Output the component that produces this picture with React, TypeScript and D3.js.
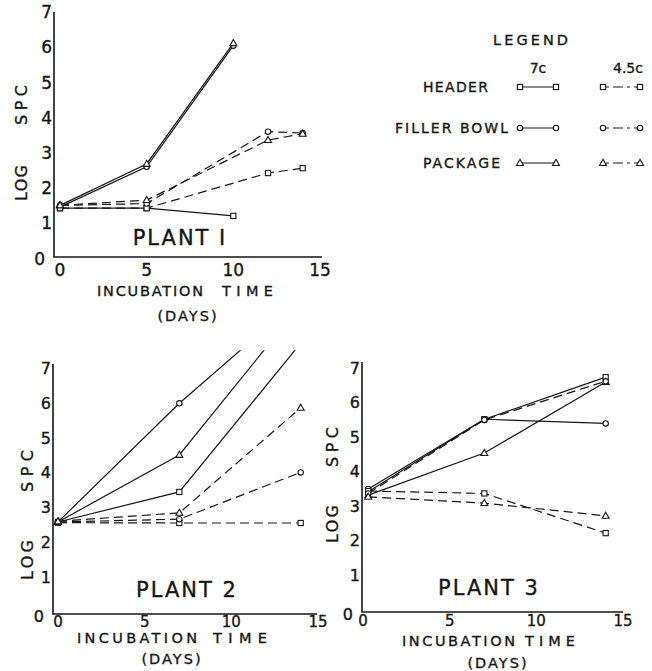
import React from 'react';
import * as d3 from 'd3';

type Pt = [number, number];

// x = incubation time (days), y = log SPC
const p1Header7: Pt[] = [[0, 1.42], [5, 1.42], [10, 1.2]];
const p1Filler7: Pt[] = [[0, 1.45], [5, 2.6], [10, 6.05]];
const p1Package7: Pt[] = [[0, 1.5], [5, 2.68], [10, 6.12]];
const p1Header45: Pt[] = [[0, 1.42], [5, 1.42], [12, 2.42], [14, 2.56]];
const p1Filler45: Pt[] = [[0, 1.5], [5, 1.55], [12, 3.6], [14, 3.56]];
const p1Package45: Pt[] = [[0, 1.5], [5, 1.65], [12, 3.36], [14, 3.54]];

const p2Header7: Pt[] = [[0, 2.58], [7, 3.44], [14, 7.7]];
const p2Filler7: Pt[] = [[0, 2.58], [7, 5.98], [14, 9.0]];
const p2Package7: Pt[] = [[0, 2.58], [7, 4.5], [14, 8.8]];
const p2Header45: Pt[] = [[0, 2.56], [7, 2.55], [14, 2.55]];
const p2Filler45: Pt[] = [[0, 2.58], [7, 2.66], [14, 4.0]];
const p2Package45: Pt[] = [[0, 2.6], [7, 2.84], [14, 5.85]];

const p3Header7: Pt[] = [[0.3, 3.4], [7, 5.5], [14, 6.72]];
const p3Filler7: Pt[] = [[0.3, 3.48], [7, 5.5], [14, 5.38]];
const p3Package7: Pt[] = [[0.3, 3.3], [7, 4.52], [14, 6.58]];
const p3Header45: Pt[] = [[0.3, 3.42], [7, 3.35], [14, 2.2]];
const p3Filler45: Pt[] = [[0.3, 3.35], [7, 5.48], [14, 6.6]];
const p3Package45: Pt[] = [[0.3, 3.25], [7, 3.07], [14, 2.7]];

const yTicks = [0, 1, 2, 3, 4, 5, 6, 7];
const xTicks = [0, 5, 10, 15];
const items = ['HEADER', 'FILLER BOWL', 'PACKAGE'];
const temps = ['7c', '4.5c'];

type Item = 'header' | 'filler' | 'package';
interface Series { pts: Pt[]; item: Item; dashed: boolean }

const mk = (a: Pt[][]): Series[] => [
  { pts: a[0], item: 'header', dashed: false },
  { pts: a[1], item: 'filler', dashed: false },
  { pts: a[2], item: 'package', dashed: false },
  { pts: a[3], item: 'header', dashed: true },
  { pts: a[4], item: 'filler', dashed: true },
  { pts: a[5], item: 'package', dashed: true },
];

// layout: ylab = [x, bottom of LOG, LOG len, top of SPC, SPC len]; xlab = [INCUBATION x, len, TIME x, len, baseline]
const panels = [
  {
    id: 'p1', title: 'PLANT I', series: mk([p1Header7, p1Filler7, p1Package7, p1Header45, p1Filler45, p1Package45]),
    xr: [60, 320], yr: [258, 12.3], ax: 54, ay: 257, axEnd: 322, atop: 12,
    tickFs: 17, xTickY: 276, ylab: [21, 201, 36, 85, 40], titlePos: [180, 245],
    xlab: [97, 106, 222, 51, 296], daysPos: [188, 321],
  },
  {
    id: 'p2', title: 'PLANT 2', series: mk([p2Header7, p2Filler7, p2Package7, p2Header45, p2Filler45, p2Package45]),
    xr: [58, 318], yr: [612, 367.7], ax: 53, ay: 614, axEnd: 317, atop: 364,
    tickFs: 15, xTickY: 627, ylab: [27, 580, 40, 450, 42], titlePos: [187, 597],
    xlab: [77, 120, 213, 54, 643], daysPos: [172, 664],
  },
  {
    id: 'p3', title: 'PLANT 3', series: mk([p3Header7, p3Filler7, p3Package7, p3Header45, p3Filler45, p3Package45]),
    xr: [363, 623], yr: [609, 367.5], ax: 362, ay: 612, axEnd: 623, atop: 362,
    tickFs: 15, xTickY: 626, ylab: [332, 543, 38, 427, 40], titlePos: [489, 595],
    xlab: [402, 113, 525, 50, 646], daysPos: [498, 668],
  },
];

const INK = '#161616';
const FONT = "'DejaVu Sans', 'Liberation Sans', sans-serif";
const TXT = { fill: INK, stroke: INK, strokeWidth: 0.35 };

const Marker = ({ item, x, y }: { item: Item; x: number; y: number }) => {
  if (item === 'header') {
    return <rect x={x - 2.6} y={y - 2.6} width={5.2} height={5.2} fill="#fff" stroke={INK} strokeWidth={1.1} />;
  }
  if (item === 'filler') {
    return <circle cx={x} cy={y} r={2.7} fill="#fff" stroke={INK} strokeWidth={1.1} />;
  }
  const s = 7;
  const h = s * 0.87;
  return (
    <path
      d={`M${x},${y - h * 0.6}L${x + s / 2},${y + h * 0.4}L${x - s / 2},${y + h * 0.4}Z`}
      fill="#fff" stroke={INK} strokeWidth={1.1}
    />
  );
};

const Panel = ({ p }: { p: typeof panels[number] }) => {
  const x = d3.scaleLinear().domain([0, 15]).range(p.xr);
  const y = d3.scaleLinear().domain([0, 7]).range(p.yr);
  const line = d3.line<Pt>().x(d => x(d[0])).y(d => y(d[1]));
  const clipTop = y(7.5);
  const [lx, logBottom, logLen, spcTop, spcLen] = p.ylab;
  return (
    <g fontFamily={FONT}>
      <defs>
        <clipPath id={`clip-${p.id}`}>
          <rect x={p.ax} y={clipTop} width={p.axEnd - p.ax} height={p.ay - clipTop} />
        </clipPath>
      </defs>
      {/* axes */}
      <path d={`M${p.ax},${p.atop}V${p.ay}H${p.axEnd}`} fill="none" stroke={INK} strokeWidth={1.6} />
      <g {...TXT}>
        {yTicks.map(v => (
          <text
            key={v}
            x={v === 0 ? p.ax - 9 : p.ax - 2}
            y={v === 0 ? p.ay + 8 : y(v) + 6}
            fontSize={p.tickFs + (p.id === 'p1' ? 0 : 1)}
            textAnchor="end"
          >{v}</text>
        ))}
        {xTicks.map(v => (
          <text key={v} x={x(v)} y={p.xTickY} fontSize={p.tickFs} textAnchor="middle">{v}</text>
        ))}
        <g transform={`translate(${lx},0) rotate(-90)`}>
          <text x={-logBottom} dy="0.35em" fontSize={16} textLength={logLen} lengthAdjust="spacing">LOG</text>
          <text x={-(spcTop + spcLen)} dy="0.35em" fontSize={16} textLength={spcLen} lengthAdjust="spacing">SPC</text>
        </g>
        <text x={p.titlePos[0]} y={p.titlePos[1]} textAnchor="middle" fontSize={21} letterSpacing={2}>
          {p.title}
        </text>
        <text x={p.xlab[0]} y={p.xlab[4]} fontSize={14.5} textLength={p.xlab[1]} lengthAdjust="spacing">INCUBATION</text>
        <text x={p.xlab[2]} y={p.xlab[4]} fontSize={14.5} textLength={p.xlab[3]} lengthAdjust="spacing">TIME</text>
        <text x={p.daysPos[0]} y={p.daysPos[1]} textAnchor="middle" fontSize={14.5} letterSpacing={2}>
          (DAYS)
        </text>
      </g>
      {/* series */}
      <g clipPath={`url(#clip-${p.id})`}>
        {p.series.map((s, i) => (
          <path
            key={i}
            d={line(s.pts) || ''}
            fill="none"
            stroke={INK}
            strokeWidth={1.2}
            strokeDasharray={s.dashed ? '9 5' : undefined}
          />
        ))}
        {p.series.map((s, i) =>
          s.pts.map((d, j) => <Marker key={`${i}-${j}`} item={s.item} x={x(d[0])} y={y(d[1])} />)
        )}
      </g>
    </g>
  );
};

const Legend = () => {
  const rowY = [87, 128, 163];
  const keys: Item[] = ['header', 'filler', 'package'];
  const labelLeft = [423, 395, 423];
  const labelW = [65, 113, 77];
  const solid = [520, 556];
  const dash = [603, 640];
  return (
    <g fontFamily={FONT}>
      <g {...TXT}>
        <text x={493} y={45} fontSize={14.5} textLength={75} lengthAdjust="spacing">LEGEND</text>
        <text x={538} y={73} textAnchor="middle" fontSize={14}>{temps[0]}</text>
        <text x={628} y={73} textAnchor="middle" fontSize={14}>{temps[1]}</text>
        {items.map((name, i) => (
          <text key={name} x={labelLeft[i]} y={rowY[i] + 5} fontSize={14} textLength={labelW[i]} lengthAdjust="spacing">{name}</text>
        ))}
      </g>
      {items.map((name, i) => (
        <g key={name}>
          <line x1={solid[0]} x2={solid[1]} y1={rowY[i]} y2={rowY[i]} stroke={INK} strokeWidth={1.2} />
          <line x1={dash[0]} x2={dash[1]} y1={rowY[i]} y2={rowY[i]} stroke={INK} strokeWidth={1.2} strokeDasharray="3 4 10 4" strokeDashoffset={-3} />
          {[solid[0], solid[1], dash[0], dash[1]].map(px => (
            <Marker key={px} item={keys[i]} x={px} y={rowY[i]} />
          ))}
        </g>
      ))}
    </g>
  );
};

export default function App() {
  return (
    <svg width={652} height={671} style={{ position: 'absolute', left: 0, top: 0, background: '#fff' }}>
      {panels.map(p => <Panel key={p.id} p={p} />)}
      <Legend />
    </svg>
  );
}
